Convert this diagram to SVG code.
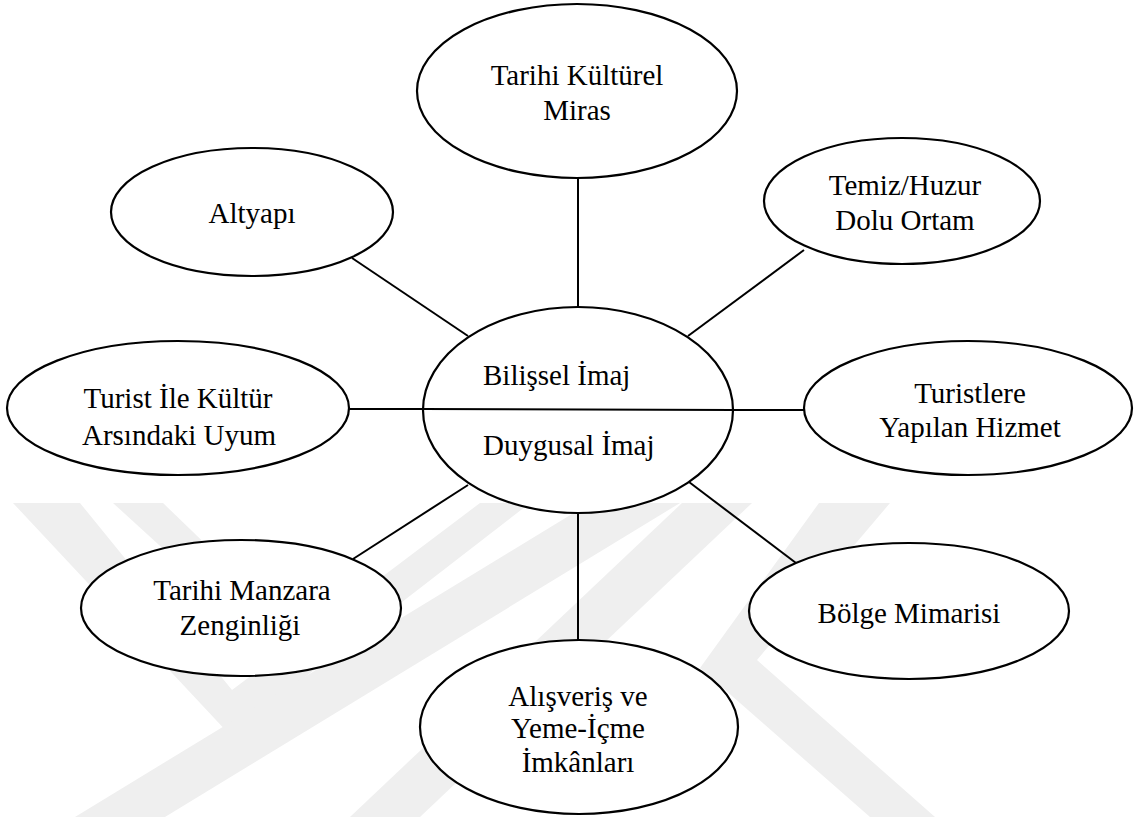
<svg xmlns="http://www.w3.org/2000/svg" width="1136" height="817" viewBox="0 0 1136 817">
  <style>
    .node ellipse { fill: #ffffff; stroke: #000000; stroke-width: 2.2; }
    .node text { font-size: 29px; fill: #000000; text-anchor: middle; }
    #connectors line { stroke: #000000; stroke-width: 2; }
    .mark { fill: #efefef; }
  </style>
  <rect width="1136" height="817" fill="#ffffff"/>

  <!-- faint background emblem -->
  <g id="emblem">
    <polygon class="mark" points="13,503 80,503 232,690 480,503 530,503 230,735"/>
    <polygon class="mark" points="113,503 163,503 305,640 285,660"/>
    <polygon class="mark" points="590,503 680,503 165,817 75,817"/>
    <polygon class="mark" points="682,503 752,503 420,817 350,817"/>
    <polygon class="mark" points="819,503 890,503 757,660 935,817 870,817 700,668"/>
  </g>

  <!-- spokes from the central image node -->
  <g id="connectors">
    <line x1="578" y1="178" x2="578" y2="307"/>
    <line x1="352" y1="258" x2="468" y2="336"/>
    <line x1="804" y1="250" x2="688" y2="336"/>
    <line x1="348" y1="409" x2="610" y2="409"/>
    <line x1="610" y1="410" x2="805" y2="410"/>
    <line x1="353" y1="559" x2="468" y2="485"/>
    <line x1="578" y1="512" x2="578" y2="640"/>
    <line x1="689" y1="482" x2="796" y2="563"/>
  </g>

  <g font-family="'Liberation Serif', 'DejaVu Serif', serif">
    <g id="node-center" class="node">
      <ellipse cx="578" cy="410" rx="155" ry="103"/>
      <line x1="423" y1="409" x2="733" y2="410" stroke="#000" stroke-width="2"/>
      <text x="483" y="385" text-anchor="start" style="text-anchor:start">Bilişsel İmaj</text>
      <text x="483" y="455" text-anchor="start" style="text-anchor:start">Duygusal İmaj</text>
    </g>

    <g id="node-tarihi-kulturel" class="node">
      <ellipse cx="577" cy="91" rx="160" ry="87"/>
      <text x="577" y="85">Tarihi Kültürel</text>
      <text x="577" y="120">Miras</text>
    </g>

    <g id="node-altyapi" class="node">
      <ellipse cx="252" cy="212" rx="141" ry="64"/>
      <text x="252" y="223">Altyapı</text>
    </g>

    <g id="node-temiz" class="node">
      <ellipse cx="902" cy="201" rx="138" ry="63"/>
      <text x="905" y="195">Temiz/Huzur</text>
      <text x="905" y="230">Dolu Ortam</text>
    </g>

    <g id="node-turistlere" class="node">
      <ellipse cx="968" cy="408" rx="164" ry="67"/>
      <text x="970" y="403">Turistlere</text>
      <text x="970" y="437">Yapılan Hizmet</text>
    </g>

    <g id="node-turist-kultur" class="node">
      <ellipse cx="178" cy="408" rx="171" ry="67"/>
      <text x="178" y="408">Turist İle Kültür</text>
      <text x="179" y="445">Arsındaki Uyum</text>
    </g>

    <g id="node-manzara" class="node">
      <ellipse cx="241" cy="608" rx="160" ry="68"/>
      <text x="242" y="600">Tarihi Manzara</text>
      <text x="240" y="635">Zenginliği</text>
    </g>

    <g id="node-alisveris" class="node">
      <ellipse cx="579" cy="727" rx="159" ry="87"/>
      <text x="578" y="706">Alışveriş ve</text>
      <text x="578" y="738">Yeme-İçme</text>
      <text x="578" y="772">İmkânları</text>
    </g>

    <g id="node-bolge" class="node">
      <ellipse cx="909" cy="611" rx="160" ry="68"/>
      <text x="909" y="623">Bölge Mimarisi</text>
    </g>
  </g>
</svg>
